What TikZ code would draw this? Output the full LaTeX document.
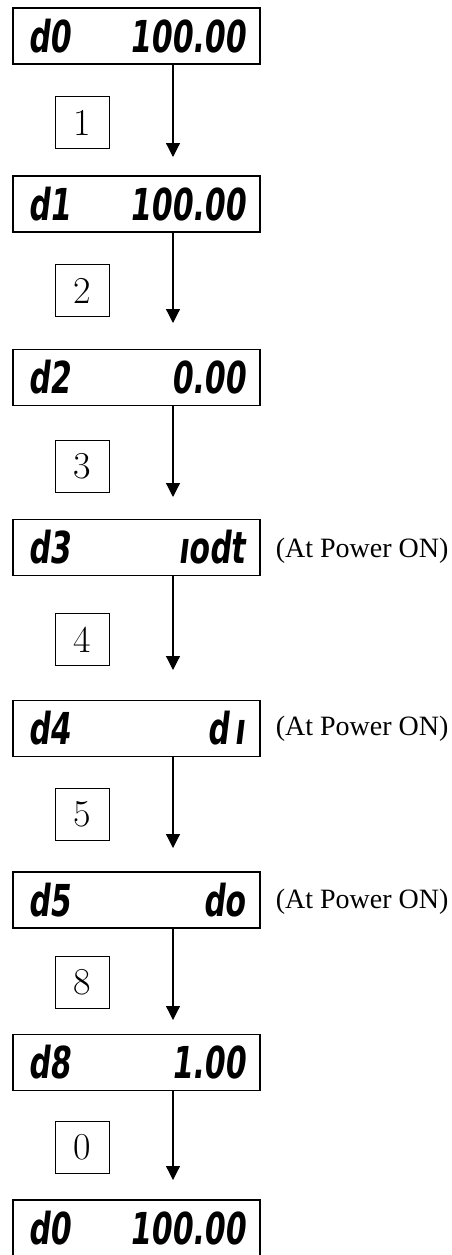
\documentclass[tikz,border=0pt]{standalone}
\usepackage{fontspec}
\usepackage{tikz}
\usetikzlibrary{arrows.meta, positioning}
\newfontfamily\lcdfont{DejaVu Sans}[FakeSlant=0.12,FakeStretch=0.68]
\newfontfamily\notefont{Liberation Serif}

\tikzset{
  lcd/.style={draw, line width=1.3pt, minimum width=247pt, minimum height=56pt,
    text width=217pt, inner xsep=15pt, inner ysep=0pt,
    font=\lcdfont\bfseries\fontsize{44}{44}\selectfont},
  keybox/.style={draw, line width=1pt, minimum width=54pt, minimum height=52pt,
    inner sep=0pt, font=\fontsize{38}{38}\selectfont},
  note/.style={font=\notefont\fontsize{28}{28}\selectfont, inner sep=0pt, anchor=west},
  flow/.style={line width=1.2pt, -{Triangle[width=14pt,length=14pt]}}
}

\begin{document}
\begin{tikzpicture}[x=1pt, y=-1pt]
  \useasboundingbox (0,0) rectangle (452,1255);

  % display windows
  \foreach \n/\ypos/\lft/\rgt in {0/36/d0/100.00, 1/204/d1/100.00, 2/377.5/d2/0.00,
      3/547.5/d3/ıodt, 4/728.5/d4/d\kern6ptı, 5/900/d5/do, 6/1062.5/d8/1.00, 7/1228/d0/100.00}
    \node[lcd] (disp\n) at (136.5,\ypos) {\lft\hfill\rgt};

  % keys pressed
  \foreach \n/\ypos/\k in {0/122.5/1, 1/290.5/2, 2/466.5/3, 3/639.5/4,
      4/814/5, 5/982.5/8, 6/1147/0}
    \node[keybox] (key\n) at (82,\ypos) {\k};

  % arrows
  \foreach \n/\tip in {0/157, 1/323, 2/497, 3/670, 4/848, 5/1020, 6/1180} {
    \coordinate (tip\n) at (173,\tip);
    \draw[flow] (disp\n.south -| tip\n) -- (tip\n);
  }

  % notes
  \node[note, right=15pt of disp3.east, yshift=-3pt] (note3) {(At Power ON)};
  \node[note, right=15pt of disp4.east] (note4) {(At Power ON)};
  \node[note, right=15pt of disp5.east, yshift=-2pt] (note5) {(At Power ON)};
\end{tikzpicture}
\end{document}
